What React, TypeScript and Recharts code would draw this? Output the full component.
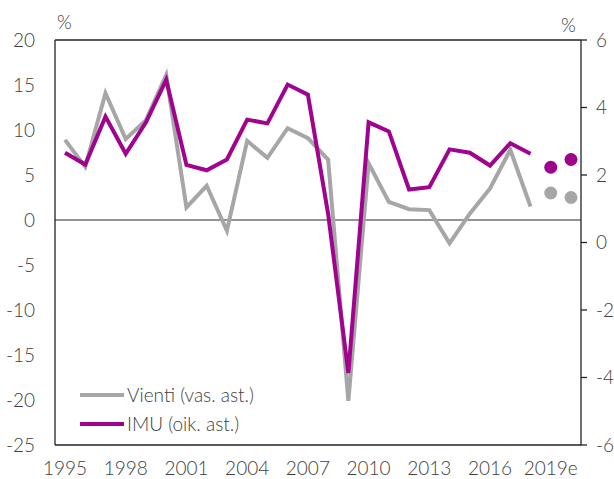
import React from 'react';
import { LineChart, Line, XAxis, YAxis, ReferenceLine } from 'recharts';

const years = ['1995','1996','1997','1998','1999','2000','2001','2002','2003','2004','2005','2006','2007','2008','2009','2010','2011','2012','2013','2014','2015','2016','2017','2018','2019e','2020e'];
const vienti: (number | null)[] = [8.9, 5.9, 14.1, 9.0, 11.1, 16.1, 1.4, 3.8, -1.2, 8.8, 6.9, 10.2, 9.1, 6.7, -20.1, 6.3, 2.0, 1.2, 1.1, -2.6, 0.7, 3.5, 7.8, 1.5, null, null];
const vientiEnnuste: (number | null)[] = [null, null, null, null, null, null, null, null, null, null, null, null, null, null, null, null, null, null, null, null, null, null, null, null, 3.0, 2.5];
const imu: (number | null)[] = [2.66, 2.31, 3.73, 2.63, 3.56, 4.82, 2.30, 2.14, 2.46, 3.64, 3.53, 4.68, 4.38, 0.85, -3.87, 3.56, 3.29, 1.57, 1.64, 2.76, 2.66, 2.28, 2.94, 2.63, null, null];
const imuEnnuste: (number | null)[] = [null, null, null, null, null, null, null, null, null, null, null, null, null, null, null, null, null, null, null, null, null, null, null, null, 2.23, 2.46];
const leftTicks = [-25, -20, -15, -10, -5, 0, 5, 10, 15, 20];
const rightTicks = [-6, -4, -2, 0, 2, 4, 6];

const data = years.map((y, i) => ({
  year: y,
  vienti: vienti[i],
  vientiE: vientiEnnuste[i],
  imu: imu[i],
  imuE: imuEnnuste[i],
}));

const GRAY = '#a6a6a6';
const PURPLE = '#a0048e';
const FONT = 'Lato, "Open Sans", sans-serif';
const tickStyle = { fill: '#404040', fontSize: 19, fontFamily: FONT, fontWeight: 300 };
const axisLine = { stroke: '#222', strokeWidth: 1.3 };

export default function App() {
  return (
    <div style={{ position: 'relative', width: 614, height: 479, fontFamily: FONT, overflow: 'hidden' }}>
      <style>{'html, body { margin: 0; padding: 0; }'}</style>
      <LineChart width={614} height={479} data={data} margin={{ top: 40, right: 0, left: 0, bottom: 0 }}>
        <XAxis
          dataKey="year"
          scale="point"
          padding={{ left: 10, right: 10 }}
          interval={2}
          tickLine={false}
          axisLine={axisLine}
          tick={tickStyle}
          tickSize={6}
          tickMargin={11}
          height={34}
        />
        <YAxis
          yAxisId="left"
          domain={[-25, 20]}
          ticks={leftTicks}
          width={55}
          tickLine={false}
          axisLine={axisLine}
          tick={tickStyle}
          tickSize={6}
          tickMargin={14}
          interval={0}
        />
        <YAxis
          yAxisId="right"
          orientation="right"
          domain={[-6, 6]}
          ticks={rightTicks}
          width={33}
          tickLine={{ stroke: '#222', strokeWidth: 1.3 }}
          axisLine={axisLine}
          tick={{ ...tickStyle, textAnchor: 'start' }}
          tickSize={6}
          tickMargin={9}
          interval={0}
        />
        <ReferenceLine yAxisId="left" y={0} stroke="#707070" strokeWidth={1.5} />
        <ReferenceLine yAxisId="left" y={20} stroke="#222" strokeWidth={1.3} />
        <Line yAxisId="left" dataKey="vienti" stroke={GRAY} strokeWidth={4} dot={false} isAnimationActive={false} strokeLinejoin="miter" />
        <Line yAxisId="right" dataKey="imu" stroke={PURPLE} strokeWidth={4} dot={false} isAnimationActive={false} strokeLinejoin="miter" />
        <Line yAxisId="left" dataKey="vientiE" stroke="none" strokeWidth={0} dot={{ r: 6.5, fill: GRAY, stroke: 'none' }} isAnimationActive={false} />
        <Line yAxisId="right" dataKey="imuE" stroke="none" strokeWidth={0} dot={{ r: 6.5, fill: PURPLE, stroke: 'none' }} isAnimationActive={false} />
      </LineChart>
      <div style={{ position: 'absolute', left: 57, top: 12, fontSize: 19, fontWeight: 300, color: '#404040', fontFamily: FONT, lineHeight: '20px' }}>%</div>
      <div style={{ position: 'absolute', left: 561, top: 15, fontSize: 19, fontWeight: 300, color: '#404040', fontFamily: FONT, lineHeight: '20px' }}>%</div>
      <div style={{ position: 'absolute', left: 80, top: 380, fontSize: 19, fontWeight: 300, color: '#404040', fontFamily: FONT }}>
        {[{ name: 'Vienti (vas. ast.)', color: GRAY }, { name: 'IMU (oik. ast.)', color: PURPLE }].map((item) => (
          <div key={item.name} style={{ display: 'flex', alignItems: 'center', height: 29, whiteSpace: 'nowrap' }}>
            <svg width={44} height={6} style={{ marginRight: 3 }}>
              <line x1={0} y1={3} x2={44} y2={3} stroke={item.color} strokeWidth={4} />
            </svg>
            <span>{item.name}</span>
          </div>
        ))}
      </div>
    </div>
  );
}
